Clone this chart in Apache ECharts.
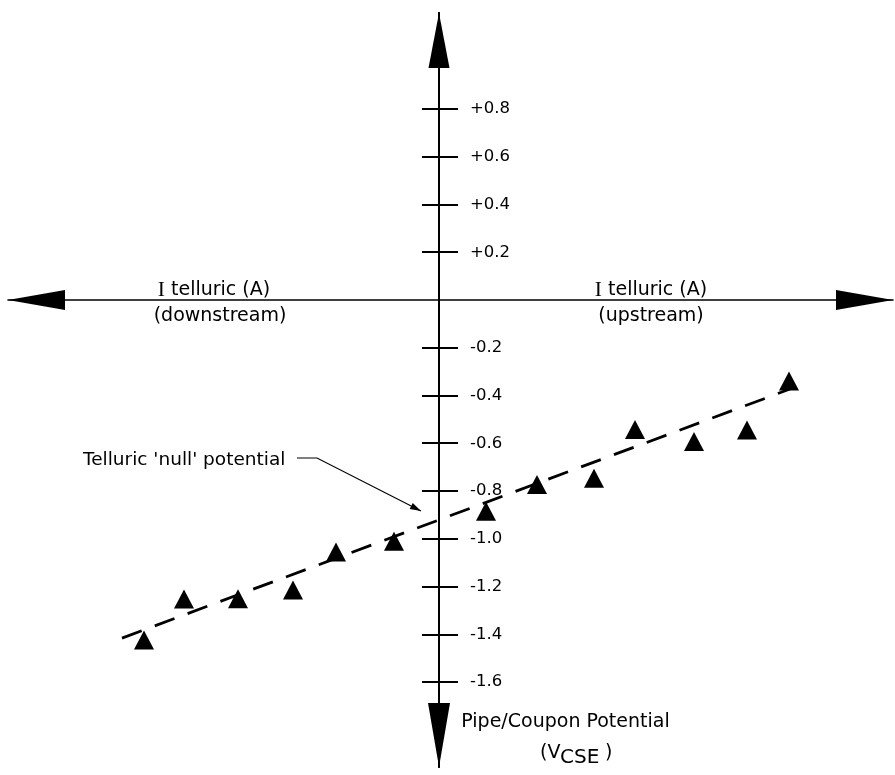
<!DOCTYPE html>
<html><head><meta charset="utf-8">
<script src="https://cdn.jsdelivr.net/npm/echarts@6/dist/echarts.min.js"></script>
<style>html,body{margin:0;padding:0;background:#fff}#c{width:895px;height:775px}</style>
</head><body><div id="c"></div>
<script>
// Telluric current (arbitrary units, axis unlabeled) vs pipe/coupon potential (V CSE)
const currentX   = [-5.90, -5.10, -4.02, -2.92, -2.06, -0.90, 0.94, 1.96, 3.10, 3.92, 5.10, 6.16, 7.00];
const potentialY = [-1.424, -1.252, -1.251, -1.215, -1.055, -1.011, -0.885, -0.773, -0.747, -0.542, -0.593, -0.545, -0.339];
// dashed best-fit line end points
const fitLineX = [-6.34, 7.02];
const fitLineY = [-1.416, -0.373];
// y tick values and labels
const tickValues = [0.8, 0.6, 0.4, 0.2, -0.2, -0.4, -0.6, -0.8, -1.0, -1.2, -1.4, -1.6];
const tickLabels = ['+0.8', '+0.6', '+0.4', '+0.2', '-0.2', '-0.4', '-0.6', '-0.8', '-1.0', '-1.2', '-1.4', '-1.6'];

const chart = echarts.init(document.getElementById('c'), null, {renderer: 'canvas'});
const SANS = 'DejaVu Sans';
const yMin = -1.956, yMax = 1.202, xMin = -8.62, xMax = 9.08;
const G = {left: 8, right: 2, top: 13, bottom: 8};
const W = 895;
// pixel position of the x = 0 line (where the vertical axis sits)
const zeroPx = G.left + (0 - xMin) / (xMax - xMin) * (W - G.left - G.right);

function labelFor(v) {
  const i = tickValues.findIndex(t => Math.abs(t - v) < 1e-6);
  return i >= 0 ? tickLabels[i] : '';
}

// annotation arrow
const p0 = [297, 458], p1 = [317, 458], tip = [421, 511];
const dx = tip[0] - p1[0], dy = tip[1] - p1[1], L = Math.hypot(dx, dy);
const ux = dx / L, uy = dy / L, ah = 11, aw = 3.5;
const base = [tip[0] - ux * ah, tip[1] - uy * ah];
const head = [tip, [base[0] - uy * aw, base[1] + ux * aw], [base[0] + uy * aw, base[1] - ux * aw]];

function txt(text, x, y, size, align, rich) {
  const st = {text: text, x: x, y: y, fontSize: size, fontFamily: SANS, fill: '#000',
              align: align || 'center', verticalAlign: 'middle'};
  if (rich) st.rich = rich;
  return {type: 'text', silent: true, style: st};
}
const richI = {s: {fontFamily: 'Liberation Serif', fontSize: 21.5, fill: '#000'}};

chart.setOption({
  animation: false,
  backgroundColor: '#fff',
  grid: [
    {left: G.left, right: G.right, top: G.top, bottom: G.bottom, outerBoundsMode: 'none', containLabel: false},
    {left: zeroPx, right: G.right, top: G.top, bottom: G.bottom, outerBoundsMode: 'none', containLabel: false}
  ],
  xAxis: [{
    gridIndex: 0, type: 'value', min: xMin, max: xMax,
    axisLine: {onZero: true, lineStyle: {color: '#000', width: 1.6},
      symbol: ['triangle', 'triangle'], symbolSize: [20, 57], symbolOffset: [28.5, -28.5]},
    axisTick: {show: false}, axisLabel: {show: false}, splitLine: {show: false}
  }, {
    gridIndex: 1, type: 'value', min: 0, max: xMax,
    axisLine: {show: false, onZero: false}, axisTick: {show: false}, axisLabel: {show: false}, splitLine: {show: false}
  }],
  yAxis: [{
    gridIndex: 0, type: 'value', min: yMin, max: yMax, position: 'left',
    axisLine: {onZero: true, lineStyle: {color: '#000', width: 2},
      symbol: ['none', 'triangle'], symbolSize: [21, 55], symbolOffset: [0, -27.5]},
    axisTick: {show: true, length: 17, lineStyle: {color: '#000', width: 2}, customValues: tickValues},
    axisLabel: {show: false},
    splitLine: {show: false}
  }, {
    gridIndex: 1, type: 'value', min: yMin, max: yMax, position: 'left',
    axisLine: {show: true, onZero: false, lineStyle: {color: '#000', width: 2},
      symbol: ['triangle', 'none'], symbolSize: [22, 64], symbolOffset: [32, 0]},
    axisTick: {show: true, inside: true, length: 19, lineStyle: {color: '#000', width: 2}, customValues: tickValues},
    axisLabel: {show: true, inside: true, margin: 31, customValues: tickValues, formatter: labelFor,
      color: '#000', fontFamily: SANS, fontSize: 16.5},
    splitLine: {show: false}
  }],
  series: [{
    type: 'line', silent: true, showSymbol: false, z: 2, xAxisIndex: 0, yAxisIndex: 0,
    data: fitLineX.map((x, i) => [x, fitLineY[i]]),
    lineStyle: {color: '#000', width: 2.8, type: [21, 14]}
  }, {
    type: 'scatter', silent: true, z: 3, xAxisIndex: 0, yAxisIndex: 0,
    symbol: 'triangle', symbolSize: [20, 19],
    itemStyle: {color: '#000', opacity: 1},
    data: currentX.map((x, i) => [x, potentialY[i]])
  }],
  graphic: [
    txt('{s|I} telluric (A)', 214, 290, 19, 'center', richI),
    txt('(downstream)', 220, 316, 19, 'center'),
    txt('{s|I} telluric (A)', 651, 290, 19, 'center', richI),
    txt('(upstream)', 651, 316, 19, 'center'),
    txt("Telluric 'null' potential", 83, 460, 18.5, 'left'),
    txt('Pipe/Coupon Potential', 565.5, 722, 19, 'center'),
    txt('(V', 540, 753, 19, 'left'),
    txt('CSE', 560, 758, 20, 'left'),
    txt(')', 605, 753, 19, 'left'),
    {type: 'polyline', silent: true, shape: {points: [p0, p1, tip]}, style: {stroke: '#000', lineWidth: 1.2, fill: null}},
    {type: 'polygon', silent: true, shape: {points: head}, style: {fill: '#000'}}
  ]
});
</script></body></html>
